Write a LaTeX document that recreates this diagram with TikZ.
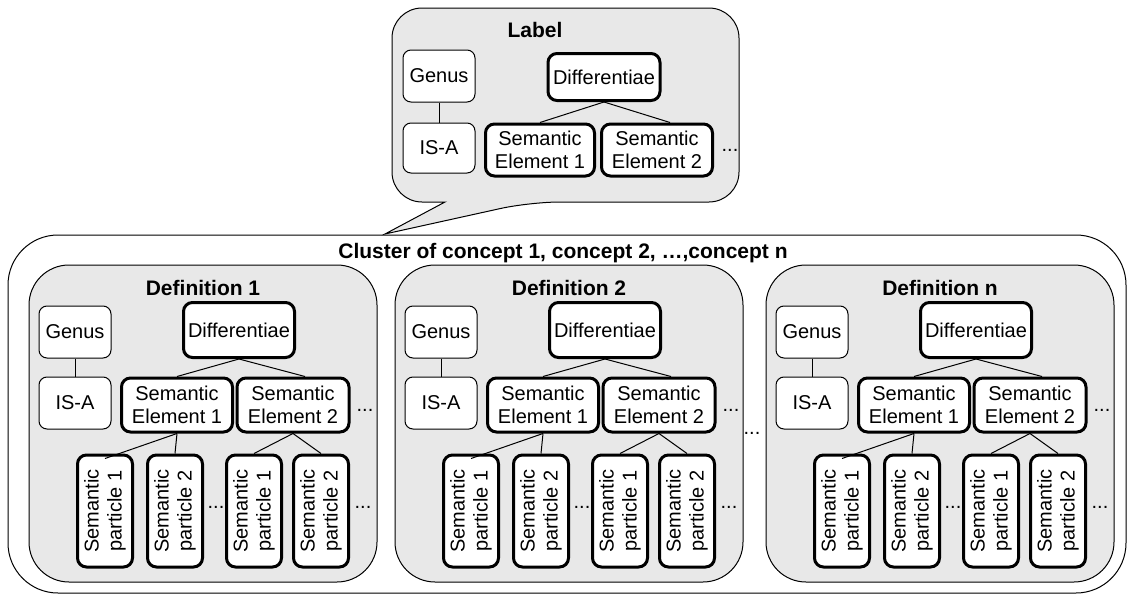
\documentclass[tikz,border=0pt]{standalone}
\usepackage{fontspec}
\setmainfont{Liberation Sans}
\definecolor{panelgray}{RGB}{232,232,232}
\begin{document}
\begin{tikzpicture}[x=1pt,y=-1pt,
  every node/.style={font=\fontsize{20}{23}\selectfont, inner sep=0pt},
  heading/.style={font=\bfseries\fontsize{21}{24}\selectfont, anchor=base},
  panel/.style={draw=black, line width=1pt, fill=panelgray, rounded corners=40pt},
  thinbox/.style={draw, fill=white, line width=1pt, rounded corners=8pt,
                  minimum width=72pt, minimum height=52pt},
  thickbox/.style={draw, fill=white, line width=3pt, rounded corners=9pt, align=center},
  particle/.style={thickbox, rotate=90, minimum width=112pt, minimum height=55pt},
  dots/.style={anchor=base},
  link/.style={line width=1pt},
]
\useasboundingbox (0,0) rectangle (1128,597);

% outer cluster frame
\draw[line width=1pt, fill=white, rounded corners=50pt] (8,235) rectangle (1126,593);
\node[heading] (cluster) at (563,258) {Cluster of concept 1, concept 2, …,concept n};

% label callout with its tail
\draw[line width=1pt, fill=panelgray, rounded corners=30pt]
  (445,202) -- (392,202) -- (392,8) -- (739,8) -- (739,202) -- (530,202)
  [sharp corners] -- (385,234) -- cycle;
\node[heading] (label) at (535,37) {Label};
\node[thinbox] (l-genus) at (439,76) {Genus};
\node[thinbox, minimum height=50pt] (l-isa) at (439,148) {IS-A};
\node[thickbox, minimum width=112pt, minimum height=47pt] (l-diff) at (604,77) {Differentiae};
\node[thickbox, minimum width=109pt, minimum height=52pt] (l-se1) at (540,150) {Semantic\\Element 1};
\node[thickbox, minimum width=111pt, minimum height=52pt] (l-se2) at (657,150) {Semantic\\Element 2};
\node[dots] (l-dots) at (730,151) {...};
\draw[link] (l-genus) -- (l-isa);
\draw[link] (l-diff.south) -- (l-se1.north);
\draw[link] (l-diff.south) -- ([xshift=13pt]l-se2.north);

% one panel per definition
\foreach \d/\x/\t in {d1/29/1, d2/395/2, dn/766/n} {
  \begin{scope}[shift={(\x,0)}]
    \draw[panel] (0,265) rectangle (348,582);
    \node[heading] (\d-title) at (174,295) {Definition \t};
    \node[thinbox] (\d-genus) at (46,332) {Genus};
    \node[thinbox] (\d-isa) at (46,403) {IS-A};
    \node[thickbox, minimum width=111pt, minimum height=55pt] (\d-diff) at (210,330) {Differentiae};
    \node[thickbox, minimum width=111pt, minimum height=54pt] (\d-se1) at (148,405) {Semantic\\Element 1};
    \node[thickbox, minimum width=112pt, minimum height=54pt] (\d-se2) at (264,405) {Semantic\\Element 2};
    \node[dots] (\d-sedots) at (336,411) {...};
    \node[particle] (\d-p1) at (76,511) {Semantic\\particle 1};
    \node[particle] (\d-p2) at (146,511) {Semantic\\particle 2};
    \node[particle] (\d-p3) at (225,511) {Semantic\\particle 1};
    \node[particle] (\d-p4) at (292,511) {Semantic\\particle 2};
    \node[dots] (\d-pdots1) at (187,508) {...};
    \node[dots] (\d-pdots2) at (334,508) {...};
    \draw[link] (\d-genus) -- (\d-isa);
    \draw[link] (\d-diff.south) -- (\d-se1.north);
    \draw[link] (\d-diff.south) -- ([xshift=12pt]\d-se2.north);
    \draw[link] (\d-se1.south) -- ([yshift=-5pt]\d-p1.east);
    \draw[link] (\d-se1.south) -- (\d-p2.east);
    \draw[link] (\d-se2.south) -- (\d-p3.east);
    \draw[link] (\d-se2.south) -- (\d-p4.east);
  \end{scope}
}

\node[dots] (gapdots) at (752,434) {...};
\end{tikzpicture}
\end{document}
